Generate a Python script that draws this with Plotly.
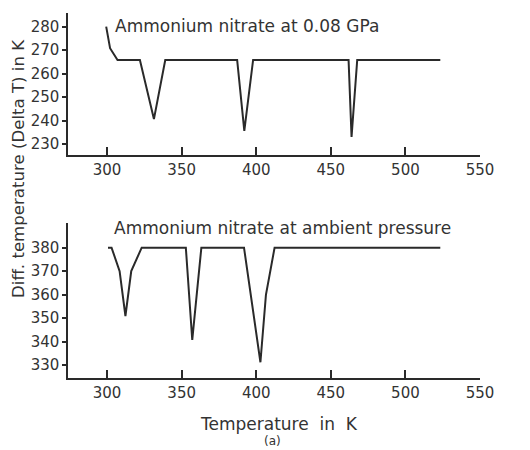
import plotly.graph_objects as go

# Top panel: Ammonium nitrate at 0.08 GPa
top_T = [299.4, 302, 307, 322, 331.4, 339, 387.2, 392, 397.9, 461.9, 463.9, 467.7, 523.4]
top_dT = [280, 270.8, 265.8, 265.8, 240.6, 265.8, 265.8, 235.6, 265.8, 265.8, 233, 265.8, 265.8]

# Bottom panel: Ammonium nitrate at ambient pressure
bot_T = [300.6, 303, 308.4, 312.3, 316.2, 323.2, 352.8, 357.1, 363.2, 391.8, 402.8, 406.5, 412.3, 523.4]
bot_dT = [380, 380, 370, 350.9, 370, 380, 380, 340.7, 380, 380, 331.2, 359.9, 380, 380]

x_ticks = [300, 350, 400, 450, 500, 550]
top_y_ticks = [230, 240, 250, 260, 270, 280]
bot_y_ticks = [330, 340, 350, 360, 370, 380]

W, H = 530, 450
def px(x):
    return x / W
def py(y):
    return 1 - y / H

FONT = "DejaVu Sans"
INK = "#2a2a2a"
TXT = "#333333"

fig = go.Figure()
fig.add_trace(go.Scatter(x=top_T, y=top_dT, mode="lines",
                         line=dict(color=INK, width=2), xaxis="x", yaxis="y",
                         showlegend=False, hoverinfo="skip"))
fig.add_trace(go.Scatter(x=bot_T, y=bot_dT, mode="lines",
                         line=dict(color=INK, width=2), xaxis="x2", yaxis="y2",
                         showlegend=False, hoverinfo="skip"))

xcommon = dict(range=[273.9, 550], tickvals=x_ticks, ticks="inside", ticklen=8,
               tickwidth=1.5, tickcolor=INK, showline=True, linecolor=INK, linewidth=1.5,
               showgrid=False, zeroline=False, domain=[px(70), px(493)],
               tickfont=dict(family=FONT, size=15, color=TXT))
ycommon = dict(ticks="outside", ticklen=4, tickwidth=1.5, tickcolor=INK,
               showline=True, linecolor=INK, linewidth=1.5, showgrid=False,
               zeroline=False, tickfont=dict(family=FONT, size=15, color=TXT))

fig.update_layout(
    width=W, height=H,
    margin=dict(l=0, r=0, t=0, b=0),
    paper_bgcolor="white", plot_bgcolor="white",
    xaxis=dict(anchor="y", **xcommon),
    yaxis=dict(anchor="x", range=[225.3, 285.8], tickvals=top_y_ticks,
               domain=[py(155), py(13)], **ycommon),
    xaxis2=dict(anchor="y2", **xcommon),
    yaxis2=dict(anchor="x2", range=[324.5, 390.5], tickvals=bot_y_ticks,
                domain=[py(378), py(223)], **ycommon),
    annotations=[
        dict(text="Ammonium nitrate at 0.08 GPa", xref="paper", yref="paper",
             x=px(116), y=py(26), xanchor="left", yanchor="middle", showarrow=False,
             font=dict(family=FONT, size=17, color=TXT)),
        dict(text="Ammonium nitrate at ambient pressure", xref="paper", yref="paper",
             x=px(115), y=py(228), xanchor="left", yanchor="middle", showarrow=False,
             font=dict(family=FONT, size=17, color=TXT)),
        dict(text="Diff. temperature (Delta T) in K", xref="paper", yref="paper",
             x=px(19.5), y=py(168), xanchor="center", yanchor="middle", textangle=-90,
             showarrow=False, font=dict(family=FONT, size=16.6, color=TXT)),
        dict(text="Temperature  in  K", xref="paper", yref="paper",
             x=px(287), y=py(424), xanchor="center", yanchor="middle",
             showarrow=False, font=dict(family=FONT, size=17, color=TXT)),
        dict(text="(a)", xref="paper", yref="paper",
             x=px(280), y=py(441), xanchor="center", yanchor="middle",
             showarrow=False, font=dict(family=FONT, size=12, color=TXT)),
    ],
)

fig.write_html(
    "out.html",
    config={"displayModeBar": False},
    post_script="document.body.style.margin='0';document.body.style.overflow='hidden';",
)
